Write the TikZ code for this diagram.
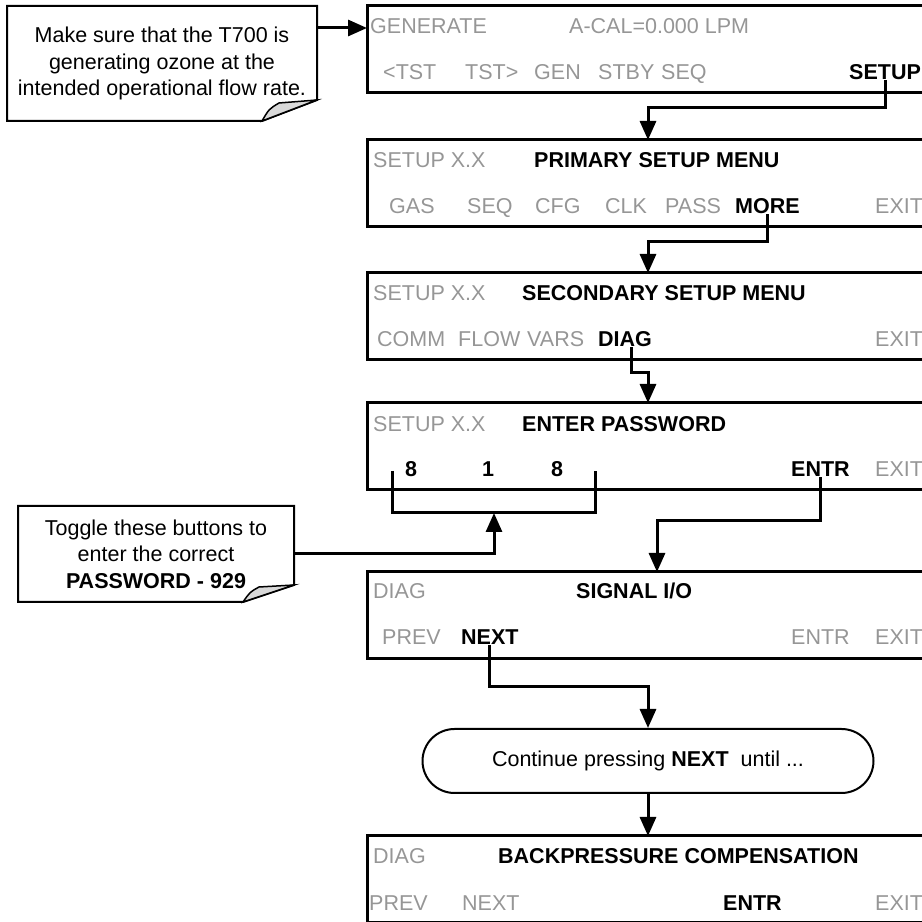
\documentclass[tikz,border=0pt]{standalone}
\usepackage{fontspec}
\setmainfont{Liberation Sans}
\usepackage{xcolor}
\usetikzlibrary{arrows.meta,positioning}
\definecolor{lcdgrey}{RGB}{150,150,150}
\definecolor{foldgrey}{RGB}{217,217,217}

\begin{document}
\begin{tikzpicture}[
    x=1pt, y=1pt,
    node distance=47pt,
    every node/.style={font=\fontsize{21.5pt}{26.5pt}\selectfont},
    screen/.style={rectangle, draw, line width=3pt, outer sep=0pt, inner sep=0pt, minimum width=562pt, minimum height=87pt},
    lbl/.style={anchor=base west, inner sep=0pt, text=lcdgrey},
    key/.style={anchor=base west, inner sep=0pt, font=\fontsize{21.5pt}{26.5pt}\selectfont\bfseries},
    note/.style={rectangle, align=center, inner sep=0pt, outer sep=0pt},
    arr/.style={-{Triangle[length=19pt,width=16pt]}, line width=3pt},
    wire/.style={line width=3pt}
]
\clip (0,0) rectangle (922,922);

% screens
\node[screen, anchor=north west] (scr1) at (367,916) {};
\node[screen, below=47pt of scr1] (scr2) {};
\node[screen, below=46pt of scr2] (scr3) {};
\node[screen, below=43pt of scr3] (scr4) {};
\node[screen, below=82pt of scr4] (scr5) {};
\node[screen, below=177pt of scr5] (scr6) {};

% screen 1
\node[lbl] (genl) at ([shift={(3,-28)}]scr1.north west) {GENERATE};
\node[lbl] (acal) at ([shift={(202,-28)}]scr1.north west) {A-CAL=0.000 LPM};
\node[lbl] (tstl) at ([shift={(16,-74)}]scr1.north west) {<TST};
\node[lbl] (tstr) at ([shift={(98,-74)}]scr1.north west) {TST>};
\node[lbl] (genk) at ([shift={(167,-74)}]scr1.north west) {GEN};
\node[lbl] (stby) at ([shift={(231,-74)}]scr1.north west) {STBY};
\node[lbl] (seq1) at ([shift={(294,-74)}]scr1.north west) {SEQ};
\node[key] (setupk) at ([shift={(482,-74)}]scr1.north west) {SETUP};

% screen 2
\node[lbl] (mode2) at ([shift={(6,-28)}]scr2.north west) {SETUP X.X};
\node[key] (title2) at ([shift={(167,-28)}]scr2.north west) {PRIMARY SETUP MENU};
\node[lbl] (gas) at ([shift={(22,-74)}]scr2.north west) {GAS};
\node[lbl] (seq2) at ([shift={(100,-74)}]scr2.north west) {SEQ};
\node[lbl] (cfg) at ([shift={(168,-74)}]scr2.north west) {CFG};
\node[lbl] (clk) at ([shift={(238,-74)}]scr2.north west) {CLK};
\node[lbl] (pass) at ([shift={(298,-74)}]scr2.north west) {PASS};
\node[key] (morek) at ([shift={(368,-74)}]scr2.north west) {MORE};
\node[lbl] (exit2) at ([shift={(508,-74)}]scr2.north west) {EXIT};

% screen 3
\node[lbl] (mode3) at ([shift={(6,-28)}]scr3.north west) {SETUP X.X};
\node[key] (title3) at ([shift={(155,-28)}]scr3.north west) {SECONDARY SETUP MENU};
\node[lbl] (comm) at ([shift={(10,-74)}]scr3.north west) {COMM};
\node[lbl] (flow) at ([shift={(91,-74)}]scr3.north west) {FLOW};
\node[lbl] (vars) at ([shift={(160,-74)}]scr3.north west) {VARS};
\node[key] (diagk) at ([shift={(231,-74)}]scr3.north west) {DIAG};
\node[lbl] (exit3) at ([shift={(508,-74)}]scr3.north west) {EXIT};

% screen 4
\node[lbl] (mode4) at ([shift={(6,-29)}]scr4.north west) {SETUP X.X};
\node[key] (title4) at ([shift={(155,-29)}]scr4.north west) {ENTER PASSWORD};
\node[key, anchor=base] (pwa) at ([shift={(44,-74)}]scr4.north west) {8};
\node[key, anchor=base] (pwb) at ([shift={(121,-74)}]scr4.north west) {1};
\node[key, anchor=base] (pwc) at ([shift={(190,-74)}]scr4.north west) {8};
\node[key] (entr4) at ([shift={(424,-74)}]scr4.north west) {ENTR};
\node[lbl] (exit4) at ([shift={(508,-74)}]scr4.north west) {EXIT};

% screen 5
\node[lbl] (mode5) at ([shift={(6,-27)}]scr5.north west) {DIAG};
\node[key] (title5) at ([shift={(209,-27)}]scr5.north west) {SIGNAL I/O};
\node[lbl] (prev5) at ([shift={(15,-73)}]scr5.north west) {PREV};
\node[key] (nextk) at ([shift={(94,-73)}]scr5.north west) {NEXT};
\node[lbl] (entr5) at ([shift={(424,-73)}]scr5.north west) {ENTR};
\node[lbl] (exit5) at ([shift={(508,-73)}]scr5.north west) {EXIT};

% screen 6
\node[lbl] (mode6) at ([shift={(6,-28)}]scr6.north west) {DIAG};
\node[key] (title6) at ([shift={(131,-28)}]scr6.north west) {BACKPRESSURE COMPENSATION};
\node[lbl] (prev6) at ([shift={(2,-75)}]scr6.north west) {PREV};
\node[lbl] (next6) at ([shift={(95,-75)}]scr6.north west) {NEXT};
\node[key] (entr6) at ([shift={(356,-75)}]scr6.north west) {ENTR};
\node[lbl] (exit6) at ([shift={(508,-75)}]scr6.north west) {EXIT};

% loop note
\node[draw, line width=2pt, rounded corners=32pt, minimum width=451pt, minimum height=64pt] (cont) at (648,161) {Continue pressing \textbf{NEXT}\ \ until ...};

% callouts
\node[note, minimum width=310pt, minimum height=115pt] (note1) at (162,858.5) {Make sure that the T700 is\\generating ozone at the\\intended operational flow rate.};
\draw[line width=2pt] (note1.north west) -- (note1.north east) -- ([yshift=21pt]note1.south east) -- ([xshift=-55pt]note1.south east) -- (note1.south west) -- cycle;
\filldraw[fill=foldgrey, line width=1.5pt] ([xshift=-55pt]note1.south east) .. controls ([xshift=-48pt,yshift=12pt]note1.south east) .. ([xshift=-38pt,yshift=18pt]note1.south east) -- ([yshift=21pt]note1.south east) -- cycle;

\node[note, minimum width=276pt, minimum height=96pt] (note2) at (156,368) {Toggle these buttons to\\enter the correct\\\textbf{PASSWORD - 929}};
\draw[line width=2pt] (note2.north west) -- (note2.north east) -- ([yshift=17pt]note2.south east) -- ([xshift=-51pt]note2.south east) -- (note2.south west) -- cycle;
\filldraw[fill=foldgrey, line width=1.5pt] ([xshift=-51pt]note2.south east) .. controls ([xshift=-44pt,yshift=10pt]note2.south east) .. ([xshift=-35pt,yshift=15pt]note2.south east) -- ([yshift=17pt]note2.south east) -- cycle;

% password bracket
\coordinate (brl) at (392,451);
\coordinate (brr) at (595,451);
\coordinate (pick) at (494,409);
\draw[wire] (brl) |- (pick) -| (brr);

% connectors
\draw[arr] ([yshift=-22pt]note1.north east) -- ([yshift=-22pt]scr1.north west);
\draw[arr] (setupk.south) |- ([yshift=32pt]scr2.north) -- (scr2.north);
\draw[arr] (morek.south) |- ([yshift=31pt]scr3.north) -- (scr3.north);
\draw[arr] ([xshift=6pt]diagk.south) |- ([yshift=30pt]scr4.north) -- (scr4.north);
\draw[arr] (entr4.south) |- ([xshift=9pt,yshift=51pt]scr5.north) -- ([xshift=9pt]scr5.north);
\draw[arr] (nextk.south) |- ([yshift=41pt]cont.north) -- (cont.north);
\draw[arr] (cont.south) -- (scr6.north);
\draw[arr] (note2.east) -| (pick);
\end{tikzpicture}
\end{document}
